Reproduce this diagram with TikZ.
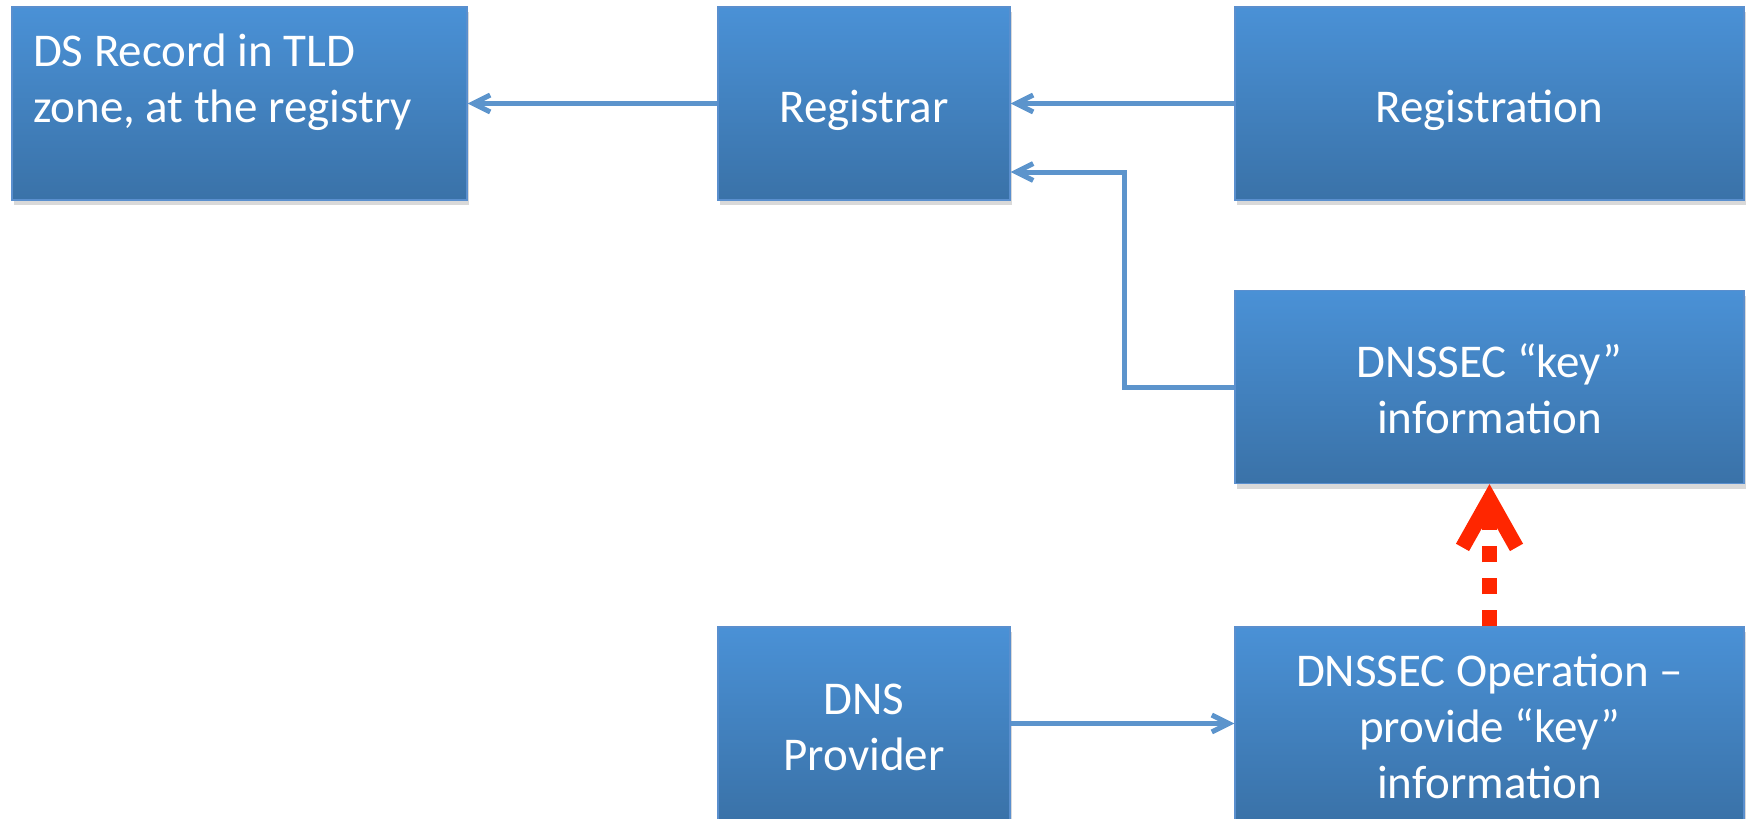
\documentclass[tikz,border=0pt]{standalone}
\usepackage{fontspec}
\setmainfont{Carlito}
\usetikzlibrary{arrows.meta,shadows}
\definecolor{boxtop}{RGB}{74,145,214}
\definecolor{boxbot}{RGB}{58,114,168}
\definecolor{boxedge}{RGB}{90,143,206}
\definecolor{conn}{RGB}{92,148,204}
\definecolor{redarr}{RGB}{255,38,0}
\newcommand\hiStrut{\rule{0pt}{51pt}}
\newcommand\loStrut{\rule[-14pt]{0pt}{14pt}}
\begin{document}
\begin{tikzpicture}[x=1pt,y=-1pt,
  box/.style={draw=boxedge, line width=1.2pt, top color=boxtop, bottom color=boxbot,
    text=white, font=\fontsize{47}{56}\selectfont, minimum height=193pt, inner sep=0pt,
    drop shadow={shadow xshift=2pt, shadow yshift=-5pt, opacity=0.3}},
  conn/.style={draw=conn, line width=5pt, -{Straight Barb[length=17pt,width=17pt]}},
  redconn/.style={draw=redarr, line width=15pt, dash pattern=on 16pt off 16pt,
    -{Straight Barb[length=48pt,width=54pt]}}]
\useasboundingbox (0,0) rectangle (1746,819);
\node[box, minimum width=455pt, text width=413pt, align=flush left] (ds) at (239.5,103.5)
  {\hiStrut DS Record in TLD\\zone, at the registry\\\mbox{}\loStrut};
\node[box, minimum width=292pt, align=center] (reg) at (864,103.5) {\hiStrut Registrar\loStrut};
\node[box, minimum width=509pt, align=center] (rgn) at (1489.5,103.5) {\hiStrut Registration\loStrut};
\node[box, minimum width=509pt, align=center] (key) at (1489.5,387) {\hiStrut DNSSEC “key”\\information\loStrut};
\node[box, minimum width=292pt, align=center] (dnsp) at (864,723.5) {\hiStrut DNS\\Provider\loStrut};
\node[box, minimum width=509pt, align=center] (op) at (1489.5,723.5) {\hiStrut DNSSEC Operation –\\provide “key”\\information\loStrut};
\coordinate (bend) at (1124,172);
\draw[conn] (reg.west) -- (ds.east);
\draw[conn] (rgn.west) -- (reg.east);
\draw[conn] (key.west) -| (bend) -- (reg.east |- bend);
\draw[conn] (dnsp.east) -- (op.west);
\draw[redconn] (op.north) -- (key.south);
\end{tikzpicture}
\end{document}
